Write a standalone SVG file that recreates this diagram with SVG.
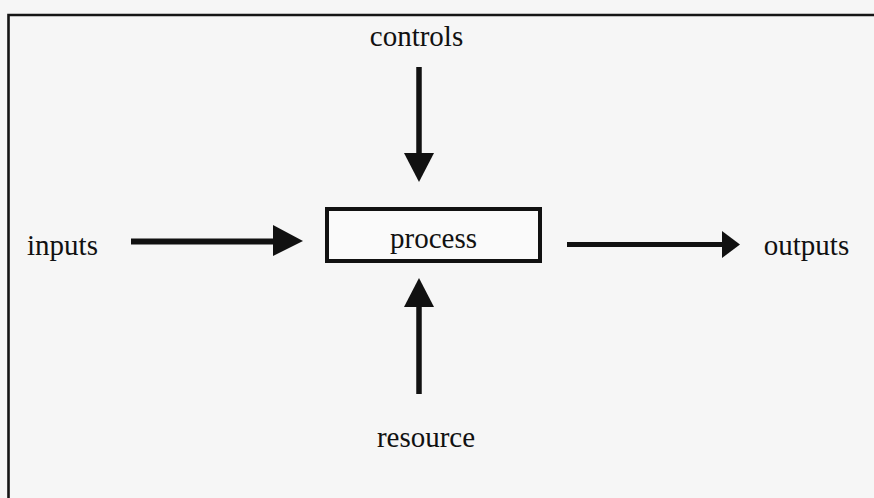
<svg xmlns="http://www.w3.org/2000/svg" width="874" height="498" viewBox="0 0 874 498">
  <style>
    .lbl { font-family: "Liberation Serif", "Times New Roman", serif; font-size: 29px; fill: #111; text-anchor: middle; }
    .shaft { stroke: #111; stroke-linecap: butt; fill: none; }
    .head { fill: #111; }
    .frame { stroke: #151515; stroke-width: 2.6; fill: none; }
  </style>

  <!-- page background -->
  <rect x="0" y="0" width="874" height="498" fill="#f6f6f6"/>

  <!-- outer frame (open at the right and bottom) -->
  <path class="frame" d="M8.5,498 V15 H874"/>

  <!-- process node -->
  <g id="process">
    <rect x="327" y="209" width="213" height="52" fill="#fafafa" stroke="#111" stroke-width="4"/>
    <text class="lbl" x="433.5" y="248">process</text>
  </g>

  <!-- external labels -->
  <g id="controls">
    <text class="lbl" x="416.5" y="46">controls</text>
  </g>
  <g id="inputs">
    <text class="lbl" x="62.5" y="255">inputs</text>
  </g>
  <g id="outputs">
    <text class="lbl" x="806.5" y="255">outputs</text>
  </g>
  <g id="resource">
    <text class="lbl" x="426" y="447">resource</text>
  </g>

  <!-- connectors -->
  <g id="connectors">
    <!-- controls -> process -->
    <line class="shaft" x1="419" y1="67" x2="419" y2="155" stroke-width="5.5"/>
    <polygon class="head" points="404,153 434,153 419,182"/>
    <!-- resource -> process -->
    <line class="shaft" x1="419" y1="394" x2="419" y2="305" stroke-width="5.5"/>
    <polygon class="head" points="404,307 434,307 419,278"/>
    <!-- inputs -> process -->
    <line class="shaft" x1="131" y1="241.5" x2="275" y2="241.5" stroke-width="6"/>
    <polygon class="head" points="273,225 273,256 303,241"/>
    <!-- process -> outputs -->
    <line class="shaft" x1="567" y1="244.5" x2="724" y2="244.5" stroke-width="5"/>
    <polygon class="head" points="722,231 722,258 740,244.5"/>
  </g>
</svg>
